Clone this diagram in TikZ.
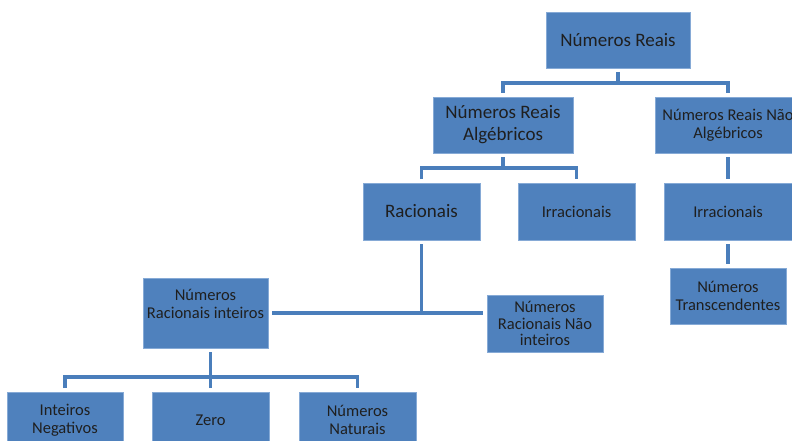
\documentclass[tikz,border=0pt]{standalone}
\usepackage{fontspec}
\setmainfont{Carlito}
\definecolor{boxblue}{HTML}{4F81BD}
\definecolor{lineblue}{HTML}{4A7EBB}
\definecolor{edgeblue}{HTML}{86AAD6}
\tikzset{
  caixa/.style={draw=edgeblue, line width=0.8pt, fill=boxblue, align=center, inner sep=0pt, outer sep=4pt, text=black!88, font=\fontsize{16.5}{18}\selectfont},
  grande/.style={font=\fontsize{19}{22}\selectfont},
  ligacao/.style={draw=lineblue, line width=3.5pt}
}
\begin{document}
\begin{tikzpicture}[x=1pt,y=-1pt]
  \useasboundingbox (0,0) rectangle (792,441);
  \clip (0,0) rectangle (792,441);
  \node[caixa, grande, minimum width=144pt, minimum height=56pt] (reais) at (618,40) {Números Reais};
  \node[caixa, grande, minimum width=140pt, minimum height=56pt] (alg) at (503,125) {Números Reais\\Algébricos};
  \node[caixa, minimum width=146pt, minimum height=56pt] (naoalg) at (728,125) {Números Reais Não\\Algébricos};
  \node[caixa, grande, minimum width=117pt, minimum height=57pt] (rac) at (421.5,211.5) {Racionais};
  \node[caixa, minimum width=117pt, minimum height=57pt] (irr1) at (576.5,211.5) {Irracionais};
  \node[caixa, minimum width=128pt, minimum height=57pt] (irr2) at (728,211.5) {Irracionais};
  \node[caixa, minimum width=125pt, minimum height=70pt] (inteiros) at (205.5,313) {Números\\Racionais inteiros\\\mbox{}};
  \node[caixa, minimum width=116pt, minimum height=57pt, font=\fontsize{16.5}{16.5}\selectfont] (naoint) at (545,323.5) {Números\\Racionais Não\\inteiros};
  \node[caixa, minimum width=116pt, minimum height=56pt] (transc) at (728,296) {Números\\Transcendentes};
  \node[caixa, minimum width=116pt, minimum height=56pt] (neg) at (65,420) {Inteiros\\Negativos};
  \node[caixa, minimum width=117pt, minimum height=56pt] (zero) at (210.5,420) {Zero};
  \node[caixa, minimum width=117pt, minimum height=56pt] (nat) at (357.5,420) {Números\\Naturais};
  \coordinate (j1) at (618,83);
  \coordinate (j2) at (503,168);
  \coordinate (j3) at (421.5,313);
  \coordinate (j4) at (210.5,377);
  \draw[ligacao] (reais) -- (j1);
  \draw[ligacao] (alg) |- (j1) -| (naoalg);
  \draw[ligacao] (alg) -- (j2);
  \draw[ligacao] (rac) |- (j2) -| (irr1);
  \draw[ligacao] (naoalg) -- (irr2);
  \draw[ligacao] (irr2) -- (transc);
  \draw[ligacao] (rac) -- (j3);
  \draw[ligacao] (inteiros) -- (j3) -- (j3 -| naoint.west);
  \draw[ligacao] (j4 |- inteiros.south) -- (j4);
  \draw[ligacao] (neg) |- (j4) -| (nat);
  \draw[ligacao] (zero) -- (j4);
\end{tikzpicture}
\end{document}
